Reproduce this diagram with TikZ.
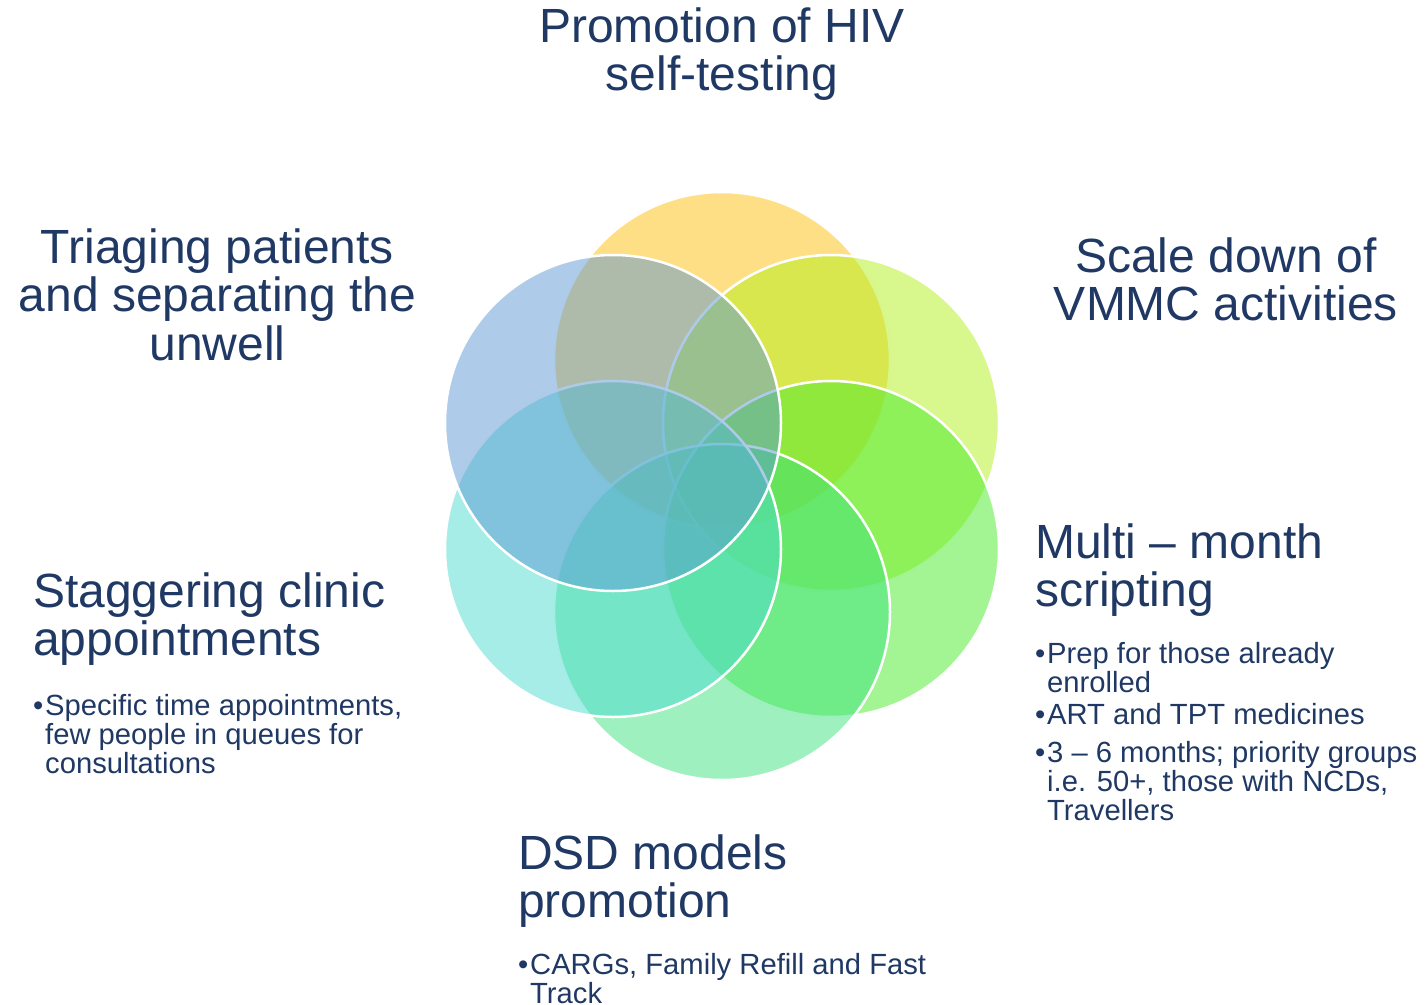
\documentclass[tikz,border=0pt]{standalone}
\usepackage{fontspec}
\setmainfont{Liberation Sans}
\definecolor{navy}{HTML}{1F3864}
\definecolor{cA}{RGB}{255,191,11}
\definecolor{cB}{RGB}{177,239,25}
\definecolor{cC}{RGB}{71,235,41}
\definecolor{cD}{RGB}{61,225,125}
\definecolor{cE}{RGB}{77,219,209}
\definecolor{cF}{RGB}{93,153,211}
\tikzset{
  petal/.style={circle, minimum size=336pt, inner sep=0pt, fill opacity=0.5, draw=white, line width=2.5pt},
  bigtext/.style={inner sep=0pt, text=navy, font=\fontsize{48}{48.5}\selectfont},
  smalltext/.style={inner sep=0pt, text=navy, font=\fontsize{29.2}{29.2}\selectfont},
}
\begin{document}
\begin{tikzpicture}[x=1pt,y=-1pt]
\useasboundingbox (0,0) rectangle (1427,1004);
% petals
\node[petal, fill=cA] (pA) at (722,360) {};
\node[petal, fill=cB] (pB) at (831,423) {};
\node[petal, fill=cC] (pC) at (831,549) {};
\node[petal, fill=cD] (pD) at (722,612) {};
\node[petal, fill=cE] (pE) at (613,549) {};
\node[petal, fill=cF] (pF) at (613,423) {};
% titles
\node[bigtext, anchor=base] (tA) at (722,42) {\parbox[t]{600pt}{\centering Promotion of HIV\\self-testing}};
\node[bigtext, anchor=base] (tF) at (217.5,263) {\parbox[t]{430pt}{\centering Triaging patients\\and separating the\\unwell}};
\node[bigtext, anchor=base] (tB) at (1226,272) {\parbox[t]{420pt}{\centering Scale down of\\VMMC activities}};
\node[bigtext, anchor=base west] (tC) at (1035,558) {\parbox[t]{390pt}{\raggedright Multi -- month\\scripting}};
\node[bigtext, anchor=base west] (tE) at (33,607) {\parbox[t]{420pt}{\raggedright Staggering clinic\\appointments}};
\node[bigtext, anchor=base west] (tD) at (518,869) {\parbox[t]{420pt}{\raggedright DSD models\\promotion}};
% bullets
\node[smalltext, anchor=base west] (bC1) at (1035,663) {\makebox[12pt][l]{\textbullet}\parbox[t]{380pt}{\raggedright Prep for those already\\enrolled}};
\node[smalltext, anchor=base west] (bC2) at (1035,724) {\makebox[12pt][l]{\textbullet}\parbox[t]{380pt}{\raggedright ART and TPT medicines}};
\node[smalltext, anchor=base west] (bC3) at (1035,762) {\makebox[12pt][l]{\textbullet}\parbox[t]{380pt}{\raggedright 3 -- 6 months; priority groups\\i.e. 50+, those with NCDs,\\Travellers}};
\node[smalltext, anchor=base west] (bE1) at (33,715) {\makebox[12pt][l]{\textbullet}\parbox[t]{380pt}{\raggedright Specific time appointments,\\few people in queues for\\consultations}};
\node[smalltext, anchor=base west] (bD1) at (518,974) {\makebox[12pt][l]{\textbullet}\parbox[t]{420pt}{\raggedright CARGs, Family Refill and Fast\\Track}};
\end{tikzpicture}
\end{document}
